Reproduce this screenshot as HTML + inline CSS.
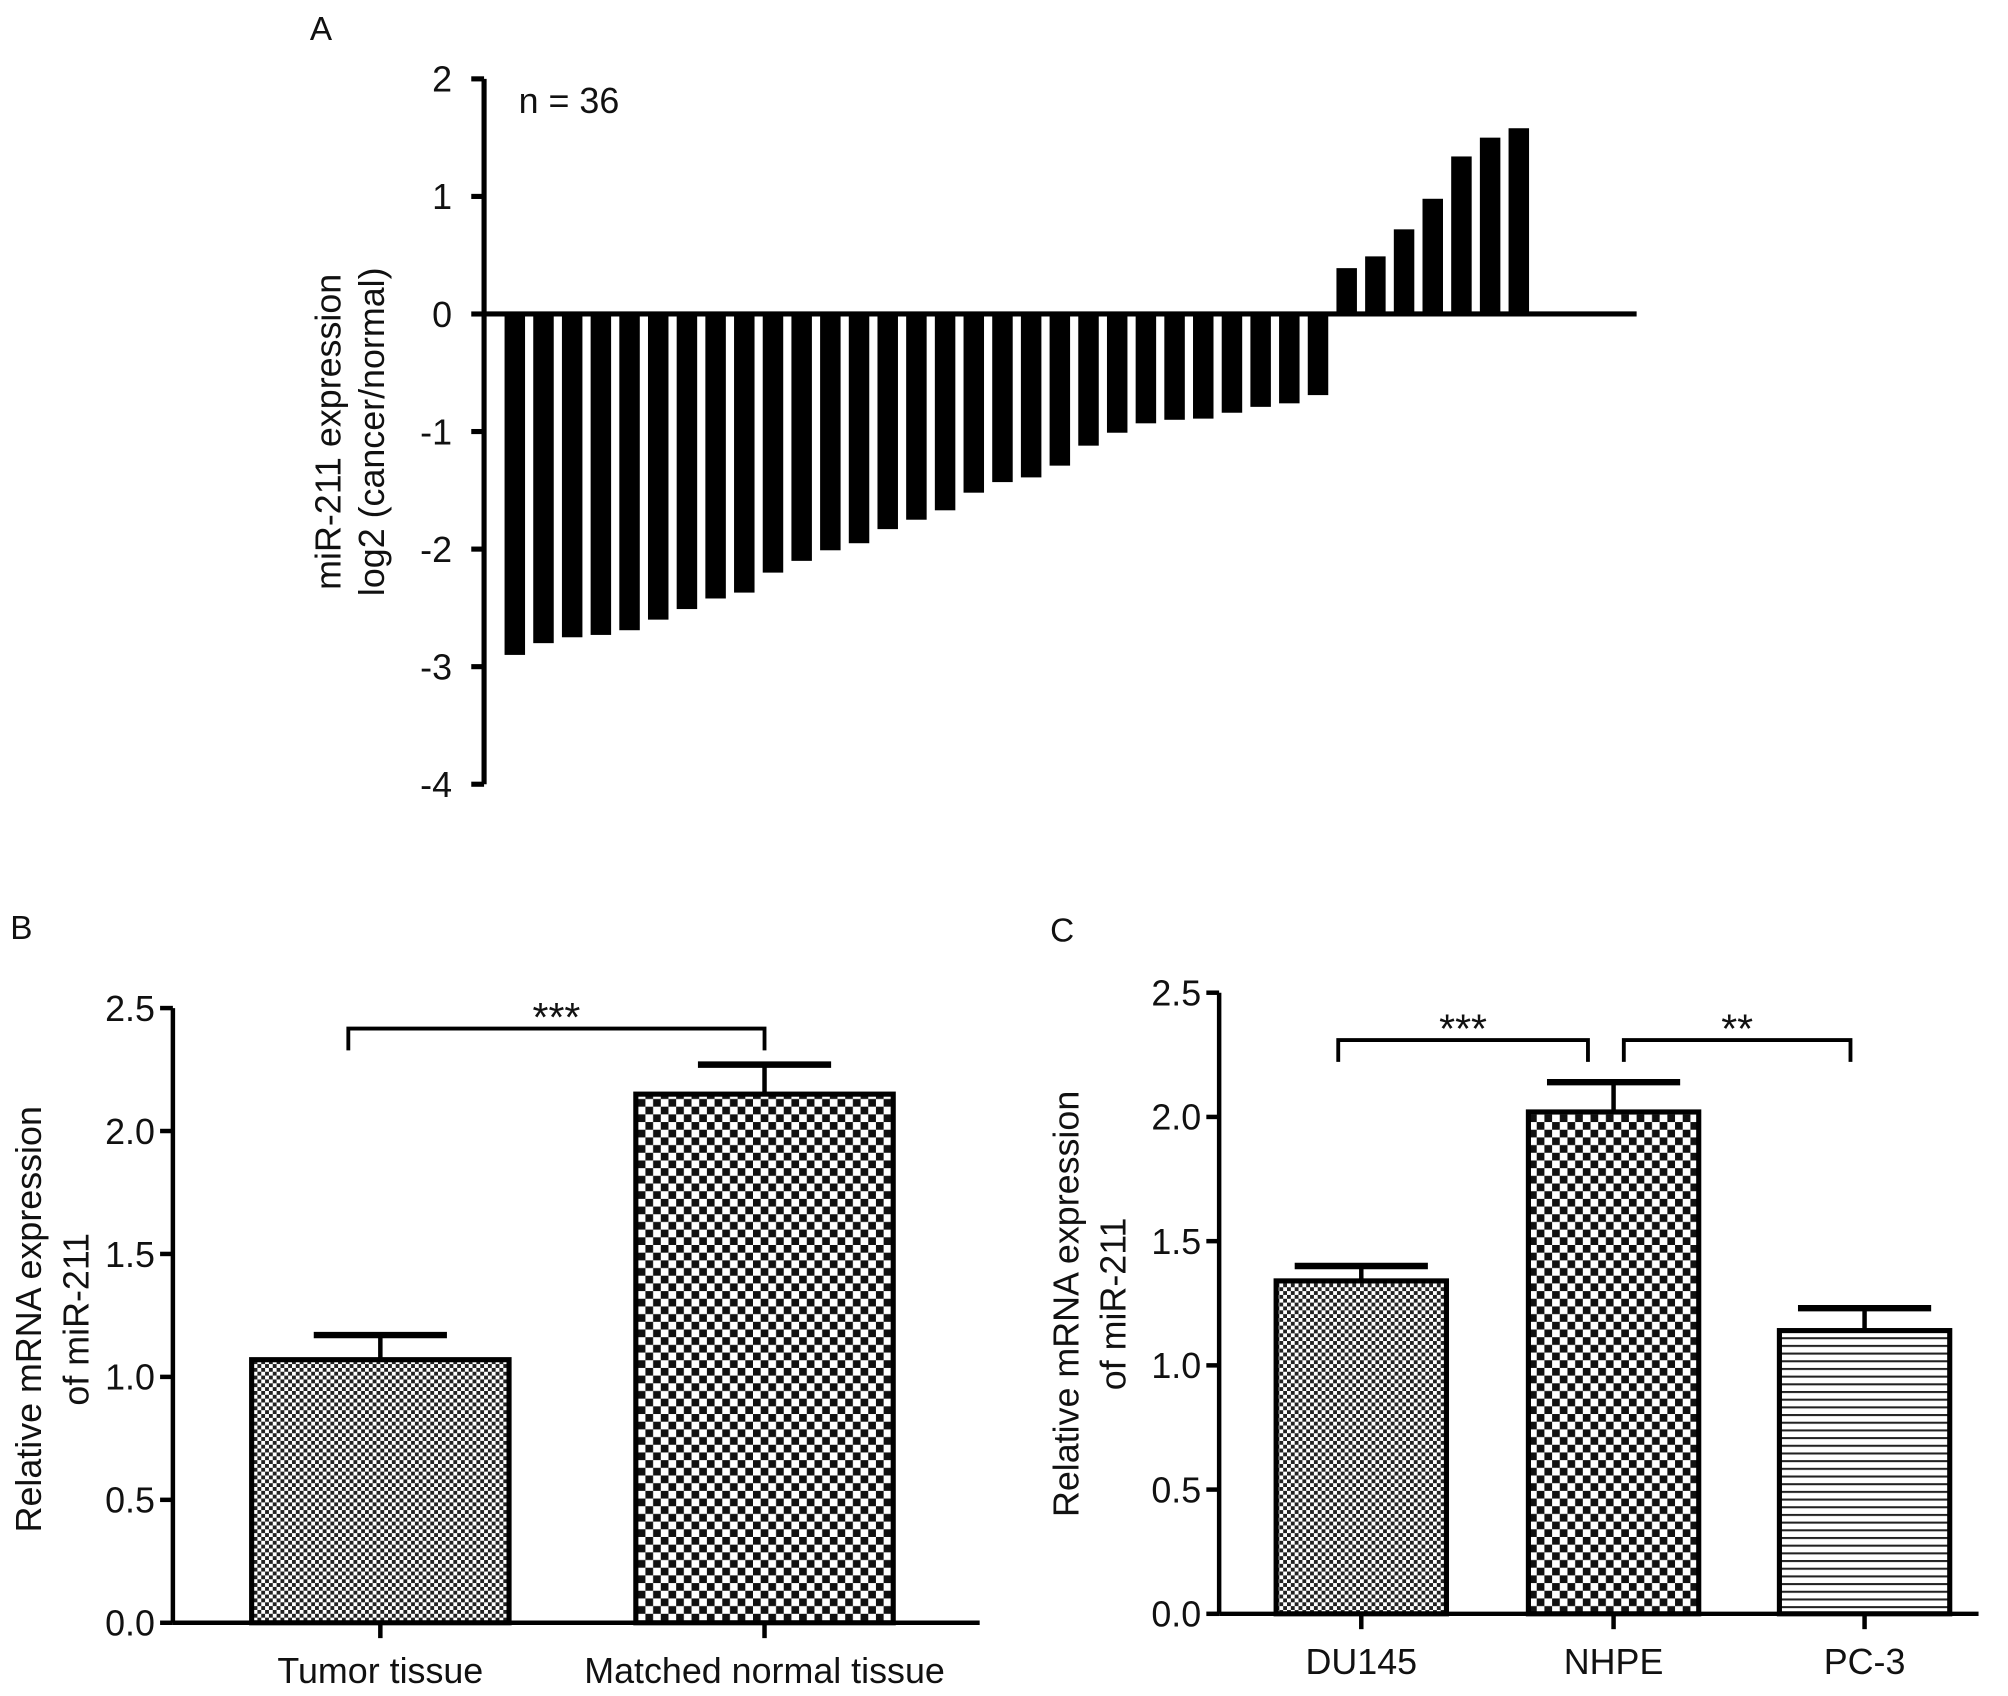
<!DOCTYPE html>
<html><head><meta charset="utf-8"><style>
html,body{margin:0;padding:0;background:#fff}
svg{display:block}
text{font-family:"Liberation Sans",Arial,sans-serif;fill:#111}
</style></head><body>
<svg id="fig" width="2008" height="1696" viewBox="0 0 1568 1324" xmlns="http://www.w3.org/2000/svg">
<defs>
<pattern id="fine" width="6" height="6" patternUnits="userSpaceOnUse"><rect width="6" height="6" fill="#fff"/><rect width="3" height="3" fill="#222"/><rect x="3" y="3" width="3" height="3" fill="#222"/></pattern>
<pattern id="coarse" width="12" height="12" patternUnits="userSpaceOnUse"><rect width="12" height="12" fill="#fff"/><rect width="6" height="6" fill="#111"/><rect x="6" y="6" width="6" height="6" fill="#111"/></pattern>
<pattern id="hlines" width="8" height="6" patternUnits="userSpaceOnUse"><rect width="8" height="6" fill="#fff"/><rect y="0" width="8" height="1.6" fill="#222"/></pattern>
</defs>
<g id="pa"></g>
<g id="pb"></g>
<g id="pc"></g>
</svg>
<script>
const aValues=[-2.9,-2.8,-2.75,-2.73,-2.69,-2.6,-2.51,-2.42,-2.37,-2.2,-2.1,-2.01,-1.95,-1.83,-1.75,-1.67,-1.52,-1.43,-1.39,-1.29,-1.12,-1.01,-0.93,-0.9,-0.89,-0.84,-0.79,-0.76,-0.69,0.39,0.49,0.72,0.98,1.34,1.5,1.58];
const aTicks=[2,1,0,-1,-2,-3,-4];
const bCategories=["Tumor tissue","Matched normal tissue"];
const bValues=[1.07,2.15];
const bErrors=[0.1,0.12];
const cCategories=["DU145","NHPE","PC-3"];
const cValues=[1.34,2.02,1.14];
const cErrors=[0.06,0.12,0.09];
const barTicks=["0.0","0.5","1.0","1.5","2.0","2.5"];

const NS="http://www.w3.org/2000/svg";
const FS=28;
function mk(parent,tag,attrs,txt){const e=document.createElementNS(NS,tag);for(const k in attrs)e.setAttribute(k,attrs[k]);if(txt!==undefined)e.textContent=txt;parent.appendChild(e);return e;}

// Panel A
(function(){
 const g=document.getElementById('pa');
 const y=v=>245-v*91.8;
 const x=i=>402+i*22.4;
 let t=mk(g,'text',{x:242,y:31,'font-size':26},'A');
 
 let ax=mk(g,'line',{x1:378,y1:y(2),x2:378,y2:y(-4),stroke:'#000','stroke-width':4});
 
 aTicks.forEach(v=>{
  let tk=mk(g,'line',{x1:368,y1:y(v),x2:378,y2:y(v),stroke:'#000','stroke-width':4});
  
  let lb=mk(g,'text',{x:353,y:y(v)+10,'text-anchor':'end','font-size':FS},String(v));
  
 });
 aValues.forEach((v,i)=>{
  let r=mk(g,'rect',{x:x(i)-8,y:Math.min(y(v),y(0)),width:16,height:Math.abs(y(v)-y(0)),fill:'#000'});
  
 });
 let z=mk(g,'line',{x1:378,y1:y(0),x2:1278,y2:y(0),stroke:'#000','stroke-width':4});
 
 let n=mk(g,'text',{x:405,y:88,'font-size':FS},'n = 36');
 
 let tt=mk(g,'text',{transform:'translate(266,337) rotate(-90)','text-anchor':'middle','font-size':FS},'miR-211 expression');
 
 let t2=mk(g,'text',{transform:'translate(300,337) rotate(-90)','text-anchor':'middle','font-size':FS},'log2 (cancer/normal)');
 
})();

function barPanel(g,o){
 const y=v=>o.y0-v*o.unit;
 let L=mk(g,'text',{x:o.lx,y:o.ly,'font-size':26},o.label);
 
 let ax=mk(g,'line',{x1:o.ax,y1:y(2.5),x2:o.ax,y2:y(0),stroke:'#000','stroke-width':3.5});
 
 barTicks.forEach(s=>{const v=parseFloat(s);
  let tk=mk(g,'line',{x1:o.ax-10,y1:y(v),x2:o.ax,y2:y(v),stroke:'#000','stroke-width':3.5});
  
  let lb=mk(g,'text',{x:o.ax-14,y:y(v)+10,'text-anchor':'end','font-size':FS},s);
  
 });
 let xa=mk(g,'line',{x1:o.ax,y1:y(0),x2:o.xend,y2:y(0),stroke:'#000','stroke-width':3.5});
 
 o.cats.forEach((c,i)=>{
  const cx=o.cx[i],hw=o.bw/2;
  let eb=mk(g,'line',{x1:cx,y1:y(o.vals[i]),x2:cx,y2:y(o.vals[i]+o.errs[i]),stroke:'#000','stroke-width':3.5});
  
  let cap=mk(g,'line',{x1:cx-52,y1:y(o.vals[i]+o.errs[i]),x2:cx+52,y2:y(o.vals[i]+o.errs[i]),stroke:'#000','stroke-width':5});
  
  let r=mk(g,'rect',{x:cx-hw,y:y(o.vals[i]),width:o.bw,height:y(0)-y(o.vals[i]),fill:'url(#'+o.fills[i]+')',stroke:'#000','stroke-width':4});
  
  let tk=mk(g,'line',{x1:cx,y1:y(0),x2:cx,y2:y(0)+12,stroke:'#000','stroke-width':3.5});
  
  let lb=mk(g,'text',{x:cx,y:o.xly,'text-anchor':'middle','font-size':FS},c);
  
 });
 o.brackets.forEach(b=>{
  let p=mk(g,'path',{d:`M${b[0]},${b[2]+17}V${b[2]}H${b[1]}V${b[2]+17}`,fill:'none',stroke:'#000','stroke-width':3});
  
  let s=mk(g,'text',{x:(b[0]+b[1])/2,y:b[2]+2,'text-anchor':'middle','font-size':32},b[3]);
  
 });
 let t1=mk(g,'text',{transform:`translate(${o.tx},${o.ty}) rotate(-90)`,'text-anchor':'middle','font-size':FS},'Relative mRNA expression');
 
 let t2=mk(g,'text',{transform:`translate(${o.tx+37},${o.ty}) rotate(-90)`,'text-anchor':'middle','font-size':FS},'of miR-211');
 
}
barPanel(document.getElementById('pb'),{label:'B',lx:8,ly:733,ax:135,y0:1267,unit:192,xend:765,cats:bCategories,vals:bValues,errs:bErrors,cx:[297,597],bw:201,fills:['fine','coarse'],xly:1314,brackets:[[272,597,803,'***']],tx:32,ty:1030});
barPanel(document.getElementById('pc'),{label:'C',lx:820,ly:735,ax:952,y0:1260,unit:194,xend:1545,cats:cCategories,vals:cValues,errs:cErrors,cx:[1063,1260,1456],bw:133,fills:['fine','coarse','hlines'],xly:1307,brackets:[[1045,1240,812,'***'],[1268,1445,812,'**']],tx:842,ty:1018});
</script>
</body></html>
